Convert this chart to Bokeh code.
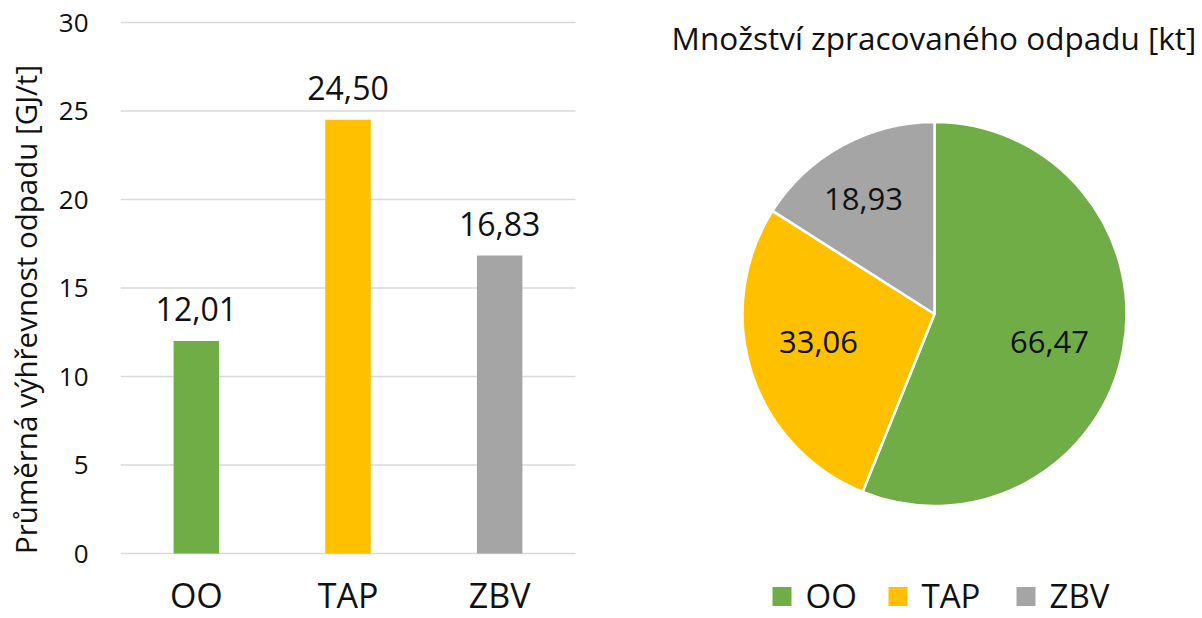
import math
from bokeh.plotting import figure
from bokeh.models import Range1d, LabelSet, ColumnDataSource, FixedTicker
from bokeh.core.properties import value
from bokeh.embed import file_html
from bokeh.resources import INLINE

# ---- data ----
categories = ["OO", "TAP", "ZBV"]
heat_values = [12.01, 24.50, 16.83]          # GJ/t
waste_amounts = [66.47, 33.06, 18.93]        # kt
colors = ["#70AD47", "#FFC000", "#A5A5A5"]
y_ticks = [0, 5, 10, 15, 20, 25, 30]
y_label = "Průměrná výhřevnost odpadu [GJ/t]"
pie_title = "Množství zpracovaného odpadu [kt]"

FONT = "Open Sans"
TXT = "#111111"

# ---- layout constants (pixels within the figure canvas) ----
FIG_W, FIG_H = 1202, 618
LEFT = 120                          # frame left edge (room for the y axis)
BAR_TOP_PX, BAR_ZERO_PX = 22, 553   # canvas y (from top) of 30 and of 0
CAT_W_PX = 151.67                   # width of one bar category in pixels

ppu = (BAR_ZERO_PX - BAR_TOP_PX) / 30.0
y_start = -(FIG_H - BAR_ZERO_PX) / ppu
y_end = 30 + BAR_TOP_PX / ppu
x_start = -0.5
x_end = x_start + (FIG_W - LEFT) / CAT_W_PX


def fmt(v):
    return f"{v:.2f}".replace(".", ",")


p = figure(width=FIG_W, height=FIG_H, x_range=Range1d(x_start, x_end),
           y_range=Range1d(y_start, y_end), output_backend="svg",
           toolbar_location=None, x_axis_location=None,
           min_border_left=LEFT, min_border_right=0, min_border_top=0,
           min_border_bottom=0)
p.extra_x_ranges = {"px": Range1d(LEFT, FIG_W)}
p.extra_y_ranges = {"px": Range1d(0, FIG_H)}
p.outline_line_color = None
p.xgrid.visible = False
p.ygrid.visible = False

# ---- left: bar chart ----
idx = list(range(len(categories)))
bar_src = ColumnDataSource(dict(
    x=idx, cat=categories, val=heat_values, color=colors,
    lbl=[fmt(v) for v in heat_values], zero=[0] * len(categories)))

# horizontal gridlines over the bar area only
n = len(y_ticks)
p.segment(x0=[-0.5] * n, x1=[len(categories) - 0.5] * n,
          y0=y_ticks, y1=y_ticks, line_color="#D9D9D9", line_width=1.6)
p.vbar(x="x", top="val", width=0.3, fill_color="color", line_color=None,
       source=bar_src)

p.yaxis.ticker = FixedTicker(ticks=y_ticks)
p.yaxis.axis_line_color = None
p.yaxis.major_tick_line_color = None
p.yaxis.minor_tick_line_color = None
p.yaxis.major_tick_out = 0
p.yaxis.major_tick_in = 0
p.yaxis.major_label_text_font = FONT
p.yaxis.major_label_text_font_size = "26px"
p.yaxis.major_label_text_color = TXT
p.yaxis.major_label_standoff = 32
p.yaxis.axis_label = y_label
p.yaxis.axis_label_text_font = FONT
p.yaxis.axis_label_text_font_size = "29.5px"
p.yaxis.axis_label_text_font_style = "normal"
p.yaxis.axis_label_text_color = TXT
p.yaxis.axis_label_standoff = 10

p.add_layout(LabelSet(x="x", y="val", text="lbl", source=bar_src,
                      text_align="center", text_baseline="alphabetic",
                      y_offset=20, text_font=value(FONT),
                      text_font_size="32px", text_color=TXT))
p.add_layout(LabelSet(x="x", y="zero", text="cat", source=bar_src,
                      text_align="center", text_baseline="alphabetic",
                      y_offset=-54, text_font=value(FONT),
                      text_font_size="34px", text_color=TXT))

# ---- right: pie chart (pixel coordinates via extra ranges) ----
cx, cy, R = 934, 304.5, 192
total = sum(waste_amounts)
starts, ends, mids = [], [], []
cum = 0.0
for v in waste_amounts:
    a0 = math.pi / 2 - 2 * math.pi * cum / total
    cum += v
    a1 = math.pi / 2 - 2 * math.pi * cum / total
    starts.append(a0)
    ends.append(a1)
    mids.append((a0 + a1) / 2)

pie_src = ColumnDataSource(dict(start=starts, end=ends, color=colors))
p.wedge(x=cx, y=cy, radius=R, start_angle="start", end_angle="end",
        direction="clock", fill_color="color", line_color="white",
        line_width=2.5, source=pie_src, x_range_name="px", y_range_name="px")

# data-label placement (style): radial fraction and small angular nudge
label_frac = [0.617, 0.622, 0.706]
label_nudge_deg = [-2.9, -4.0, 2.8]
lang = [m + math.radians(d) for m, d in zip(mids, label_nudge_deg)]
lx = [cx + f * R * math.cos(a) for f, a in zip(label_frac, lang)]
ly = [cy + f * R * math.sin(a) for f, a in zip(label_frac, lang)]
p.text(x=lx, y=ly, text=[fmt(v) for v in waste_amounts], text_align="center",
       text_baseline="middle", text_font=value(FONT), text_font_size="31px",
       text_color=TXT, x_range_name="px", y_range_name="px")

# pie title
p.text(x=[933.5], y=[581], text=[pie_title], text_align="center",
       text_baseline="middle", text_font=value(FONT), text_font_size="31.5px",
       text_color=TXT, x_range_name="px", y_range_name="px")

# legend
legend_sq_x = [781.5, 897.5, 1025.5]
p.rect(x=legend_sq_x, y=[22] * 3, width=19, height=19,
       fill_color=colors, line_color=None, x_range_name="px", y_range_name="px")
p.text(x=[x + 23.5 for x in legend_sq_x], y=[23] * 3, text=categories,
       text_align="left", text_baseline="middle", text_font=value(FONT),
       text_font_size="33px", text_color=TXT, x_range_name="px",
       y_range_name="px")

open("out.html", "w").write(file_html(p, INLINE))
